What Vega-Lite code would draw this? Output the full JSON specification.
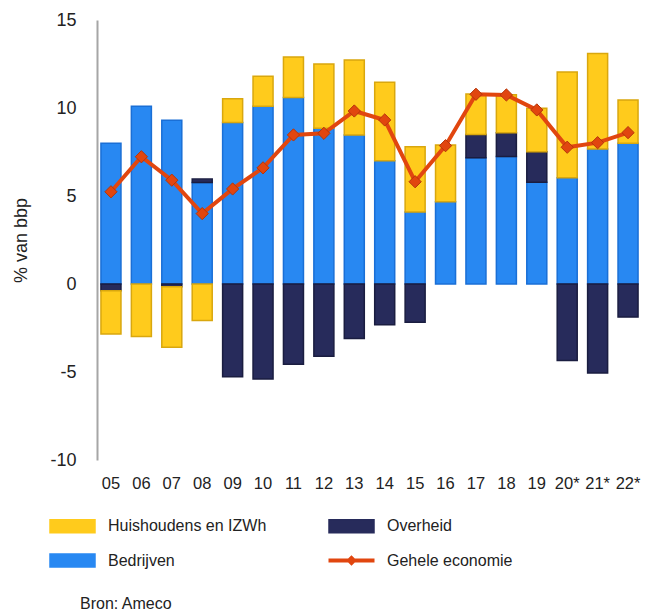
{
  "$schema": "https://vega.github.io/schema/vega-lite/v6.json",
  "autosize": {"type": "none"},
  "width": 545,
  "height": 440,
  "padding": {"left": 97, "top": 20, "right": 4, "bottom": 154},
  "background": "white",
  "config": {
    "view": {"stroke": null},
    "font": "Liberation Sans"
  },
  "title": {
    "text": "Bron: Ameco",
    "orient": "bottom",
    "anchor": "start",
    "frame": "group",
    "dx": -17,
    "offset": 25,
    "fontSize": 16,
    "fontWeight": "normal",
    "color": "#222222",
    "font": "Liberation Sans"
  },
  "datasets": {
    "sectoren": [
      {"jaar": "05", "sector": "Bedrijven", "waarde": 8.0},
      {"jaar": "05", "sector": "Overheid", "waarde": -0.38},
      {"jaar": "05", "sector": "Huishoudens en IZWh", "waarde": -2.46},
      {"jaar": "06", "sector": "Bedrijven", "waarde": 10.1},
      {"jaar": "06", "sector": "Huishoudens en IZWh", "waarde": -2.99},
      {"jaar": "07", "sector": "Bedrijven", "waarde": 9.3},
      {"jaar": "07", "sector": "Overheid", "waarde": -0.15},
      {"jaar": "07", "sector": "Huishoudens en IZWh", "waarde": -3.45},
      {"jaar": "08", "sector": "Bedrijven", "waarde": 5.76},
      {"jaar": "08", "sector": "Overheid", "waarde": 0.2},
      {"jaar": "08", "sector": "Huishoudens en IZWh", "waarde": -2.08},
      {"jaar": "09", "sector": "Bedrijven", "waarde": 9.17},
      {"jaar": "09", "sector": "Overheid", "waarde": -5.27},
      {"jaar": "09", "sector": "Huishoudens en IZWh", "waarde": 1.35},
      {"jaar": "10", "sector": "Bedrijven", "waarde": 10.1},
      {"jaar": "10", "sector": "Overheid", "waarde": -5.4},
      {"jaar": "10", "sector": "Huishoudens en IZWh", "waarde": 1.7},
      {"jaar": "11", "sector": "Bedrijven", "waarde": 10.6},
      {"jaar": "11", "sector": "Overheid", "waarde": -4.56},
      {"jaar": "11", "sector": "Huishoudens en IZWh", "waarde": 2.3},
      {"jaar": "12", "sector": "Bedrijven", "waarde": 8.85},
      {"jaar": "12", "sector": "Overheid", "waarde": -4.11},
      {"jaar": "12", "sector": "Huishoudens en IZWh", "waarde": 3.65},
      {"jaar": "13", "sector": "Bedrijven", "waarde": 8.47},
      {"jaar": "13", "sector": "Overheid", "waarde": -3.1},
      {"jaar": "13", "sector": "Huishoudens en IZWh", "waarde": 4.26},
      {"jaar": "14", "sector": "Bedrijven", "waarde": 7.0},
      {"jaar": "14", "sector": "Overheid", "waarde": -2.31},
      {"jaar": "14", "sector": "Huishoudens en IZWh", "waarde": 4.46},
      {"jaar": "15", "sector": "Bedrijven", "waarde": 4.09},
      {"jaar": "15", "sector": "Overheid", "waarde": -2.18},
      {"jaar": "15", "sector": "Huishoudens en IZWh", "waarde": 3.71},
      {"jaar": "16", "sector": "Bedrijven", "waarde": 4.68},
      {"jaar": "16", "sector": "Huishoudens en IZWh", "waarde": 3.22},
      {"jaar": "17", "sector": "Bedrijven", "waarde": 7.18},
      {"jaar": "17", "sector": "Overheid", "waarde": 1.31},
      {"jaar": "17", "sector": "Huishoudens en IZWh", "waarde": 2.3},
      {"jaar": "18", "sector": "Bedrijven", "waarde": 7.24},
      {"jaar": "18", "sector": "Overheid", "waarde": 1.36},
      {"jaar": "18", "sector": "Huishoudens en IZWh", "waarde": 2.15},
      {"jaar": "19", "sector": "Bedrijven", "waarde": 5.78},
      {"jaar": "19", "sector": "Overheid", "waarde": 1.74},
      {"jaar": "19", "sector": "Huishoudens en IZWh", "waarde": 2.46},
      {"jaar": "20*", "sector": "Bedrijven", "waarde": 6.04},
      {"jaar": "20*", "sector": "Overheid", "waarde": -4.34},
      {"jaar": "20*", "sector": "Huishoudens en IZWh", "waarde": 6.01},
      {"jaar": "21*", "sector": "Bedrijven", "waarde": 7.67},
      {"jaar": "21*", "sector": "Overheid", "waarde": -5.06},
      {"jaar": "21*", "sector": "Huishoudens en IZWh", "waarde": 5.42},
      {"jaar": "22*", "sector": "Bedrijven", "waarde": 8.0},
      {"jaar": "22*", "sector": "Overheid", "waarde": -1.88},
      {"jaar": "22*", "sector": "Huishoudens en IZWh", "waarde": 2.45}
    ],
    "totaal": [
      {"jaar": "05", "waarde": 5.24},
      {"jaar": "06", "waarde": 7.23},
      {"jaar": "07", "waarde": 5.9},
      {"jaar": "08", "waarde": 4.0},
      {"jaar": "09", "waarde": 5.4},
      {"jaar": "10", "waarde": 6.6},
      {"jaar": "11", "waarde": 8.47},
      {"jaar": "12", "waarde": 8.56},
      {"jaar": "13", "waarde": 9.83},
      {"jaar": "14", "waarde": 9.32},
      {"jaar": "15", "waarde": 5.81},
      {"jaar": "16", "waarde": 7.86},
      {"jaar": "17", "waarde": 10.78},
      {"jaar": "18", "waarde": 10.74},
      {"jaar": "19", "waarde": 9.89},
      {"jaar": "20*", "waarde": 7.77},
      {"jaar": "21*", "waarde": 8.03},
      {"jaar": "22*", "waarde": 8.6}
    ]
  },
  "encoding": {
    "x": {
      "field": "jaar",
      "type": "nominal",
      "sort": null,
      "scale": {"paddingInner": 0.342, "paddingOuter": 0.13},
      "axis": {
        "title": null,
        "domain": false,
        "ticks": false,
        "tickSize": 0,
        "labelAngle": 0,
        "labelPadding": 15,
        "labelFontSize": 16.5,
        "labelFont": "Liberation Sans",
        "labelColor": "#222222",
        "labelOverlap": false
      }
    },
    "y": {
      "field": "waarde",
      "type": "quantitative",
      "scale": {"domain": [-10, 15], "nice": false},
      "axis": {
        "title": "% van bbp",
        "titleFontSize": 18,
        "titleFont": "Liberation Sans",
        "titleFontWeight": "normal",
        "titleColor": "#222222",
        "titlePadding": 19,
        "values": [-10, -5, 0, 5, 10, 15],
        "labelExpr": "replace(datum.label, '\u2212', '-')",
        "grid": false,
        "ticks": false,
        "tickSize": 0,
        "labelPadding": 21,
        "labelFontSize": 18,
        "labelFont": "Liberation Sans",
        "labelColor": "#222222",
        "domainColor": "#a6a6a6",
        "domainWidth": 2
      }
    }
  },
  "layer": [
    {
      "data": {"name": "sectoren"},
      "transform": [
        {"calculate": "indexof(['Bedrijven','Overheid','Huishoudens en IZWh'], datum.sector)", "as": "volgorde"}
      ],
      "mark": {"type": "bar", "strokeWidth": 1.5},
      "encoding": {
        "y": {"field": "waarde", "type": "quantitative", "stack": "zero"},
        "order": {"field": "volgorde", "type": "quantitative", "sort": "ascending"},
        "color": {
          "field": "sector",
          "type": "nominal",
          "scale": {
            "domain": ["Huishoudens en IZWh", "Bedrijven", "Overheid", "Gehele economie"],
            "range": ["#FFCB1C", "#2888F2", "#272B5B", "#E1460F"]
          },
          "legend": {
            "title": null,
            "orient": "none",
            "legendX": -32.5,
            "legendY": 498,
            "direction": "vertical",
            "columns": 2,
            "columnPadding": 54,
            "rowPadding": 13.5,
            "padding": 0,
            "symbolSize": 400,
            "labelOffset": 27.5,
            "labelFontSize": 16,
            "labelFont": "Liberation Sans",
            "labelColor": "#222222",
            "labelLimit": 300,
            "encode": {
              "symbols": {
                "update": {
                  "shape": {"signal": "datum.value === 'Gehele economie' ? 'M-2.3,0H2.3M-0.25,0L0,-0.25L0.25,0L0,0.25Z' : 'M-2.25,-0.65H2.25V0.65H-2.25Z'"},
                  "fill": {"signal": "datum.value === 'Gehele economie' ? '#E1460F' : datum.value === 'Overheid' ? '#272B5B' : datum.value === 'Bedrijven' ? '#2888F2' : '#FFCB1C'"},
                  "stroke": {"signal": "datum.value === 'Gehele economie' ? '#E1460F' : datum.value === 'Overheid' ? '#1A1D40' : datum.value === 'Bedrijven' ? '#1A6FD6' : '#D9A70E'"},
                  "strokeWidth": {"signal": "datum.value === 'Gehele economie' ? 4 : 1.5"},
                  "opacity": {"value": 1},
                  "fillOpacity": {"value": 1}
                }
              }
            }
          }
        },
        "stroke": {
          "field": "sector",
          "type": "nominal",
          "scale": {
            "domain": ["Huishoudens en IZWh", "Overheid", "Bedrijven"],
            "range": ["#D9A70E", "#1A1D40", "#1A6FD6"]
          },
          "legend": null
        }
      }
    },
    {
      "mark": {"type": "rule", "color": "#8c8c8c", "strokeWidth": 1.5},
      "encoding": {"y": {"datum": 0}, "x": null}
    },
    {
      "data": {"name": "totaal"},
      "mark": {"type": "line", "strokeWidth": 4},
      "encoding": {
        "color": {"datum": "Gehele economie"}
      }
    },
    {
      "data": {"name": "totaal"},
      "mark": {"type": "point", "shape": "diamond", "size": 150, "filled": true, "fill": "#E1460F", "stroke": "#B5360A", "strokeWidth": 1, "opacity": 1}
    }
  ]
}
